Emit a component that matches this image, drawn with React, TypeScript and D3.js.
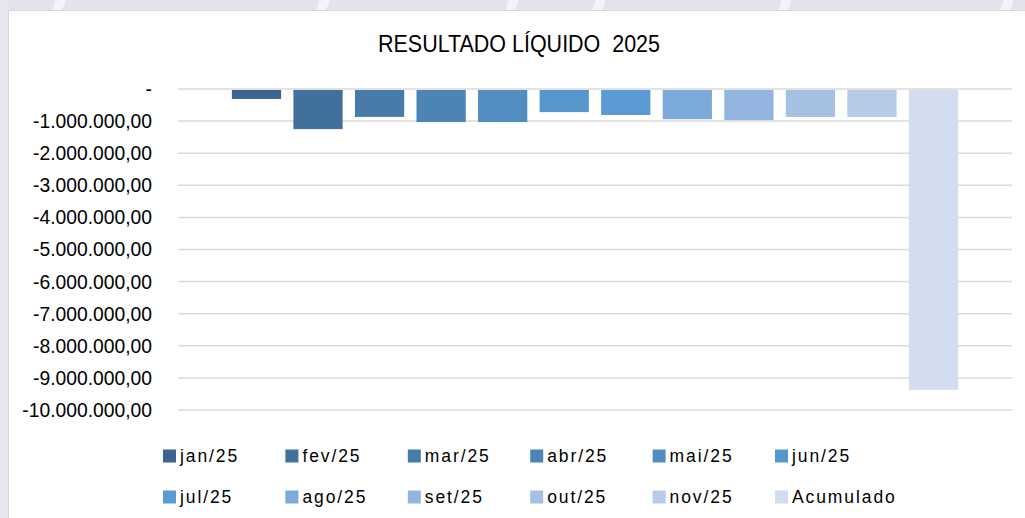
import React from 'react';
import * as d3 from 'd3';

// Resultado líquido por mês (R$) - valores negativos
const seriesNames = ['jan/25', 'fev/25', 'mar/25', 'abr/25', 'mai/25', 'jun/25',
  'jul/25', 'ago/25', 'set/25', 'out/25', 'nov/25', 'Acumulado'];
const seriesValues = [-310000, -1250000, -870000, -1030000, -1030000, -720000,
  -810000, -940000, -970000, -870000, -870000, -9370000];
const seriesColors = ['#3b6590', '#41709d', '#477baa', '#4c84b6', '#528dc2', '#5795cd',
  '#5b9bd5', '#7caada', '#93b4df', '#a6c0e3', '#b7cbe8', '#d2ddef'];
const yTicks = [0, -1e6, -2e6, -3e6, -4e6, -5e6, -6e6, -7e6, -8e6, -9e6, -10e6];

const W = 1025;
const H = 518;
const plot = { left: 178, right: 1012, top: 89, bottom: 410 };

const fmt = (v: number) => {
  if (v === 0) return '-';
  const s = d3.format(',.2f')(v); // -1,000,000.00
  return s.replace(/,/g, '#').replace('.', ',').replace(/#/g, '.').replace('−', '-');
};

export default function App() {
  const x = d3.scaleBand<string>()
    .domain(seriesNames)
    .range([plot.left, plot.right])
    .paddingInner(0.2)
    .paddingOuter(0.875);

  const y = d3.scaleLinear()
    .domain([-10e6, 0])
    .range([plot.bottom, plot.top]);

  const legendX = (i: number) => 163 + (i % 6) * 122.4;
  const legendY = (i: number) => (i < 6 ? 456 : 497);

  // faint white stripes on the slide background
  const stripes = [52, 316, 505, 592, 778, 1000];

  return (
    <svg width={W} height={H} style={{ position: 'absolute', left: 0, top: 0, display: 'block' }}
      fontFamily="'Liberation Sans', Arial, sans-serif">
      <rect x={0} y={0} width={W} height={H} fill="#ffffff" />
      <rect x={0} y={0} width={W} height={10} fill="#e3e3ed" />
      <rect x={0} y={0} width={8} height={H} fill="#e6e6ee" />
      {stripes.map((sx, i) => (
        <polygon key={i} points={`${sx + 4},0 ${sx + 14},0 ${sx + 10},10 ${sx},10`} fill="#f3f3f8" />
      ))}
      <rect x={8.5} y={10.5} width={W} height={H} fill="#ffffff" stroke="#d6d6d6" strokeWidth={1} />

      <text x={378} y={52} fontSize={23} textLength={282} lengthAdjust="spacingAndGlyphs"
        fill="#000" style={{ whiteSpace: 'pre' }}>
        {'RESULTADO LÍQUIDO  2025'}
      </text>

      {yTicks.map((t) => (
        <g key={t}>
          <line x1={plot.left} x2={plot.right} y1={y(t)} y2={y(t)} stroke="#d9d9d9" strokeWidth={1.5} />
          <text x={152} y={y(t)} dy="0.36em" textAnchor="end" fontSize={19.3} fill="#000">
            {fmt(t)}
          </text>
        </g>
      ))}

      {seriesNames.map((s, i) => (
        <rect key={s} x={x(s)} y={y(0) + 1} width={x.bandwidth()}
          height={Math.max(0, y(seriesValues[i]) - y(0) - 1)} fill={seriesColors[i]} />
      ))}

      {seriesNames.map((s, i) => (
        <g key={s} transform={`translate(${legendX(i)},${legendY(i)})`}>
          <rect x={0} y={-6.5} width={13} height={13} fill={seriesColors[i]} />
          <text x={17} y={0} dy="0.36em" fontSize={17.5} letterSpacing={1.9} fill="#000">{s}</text>
        </g>
      ))}
    </svg>
  );
}
